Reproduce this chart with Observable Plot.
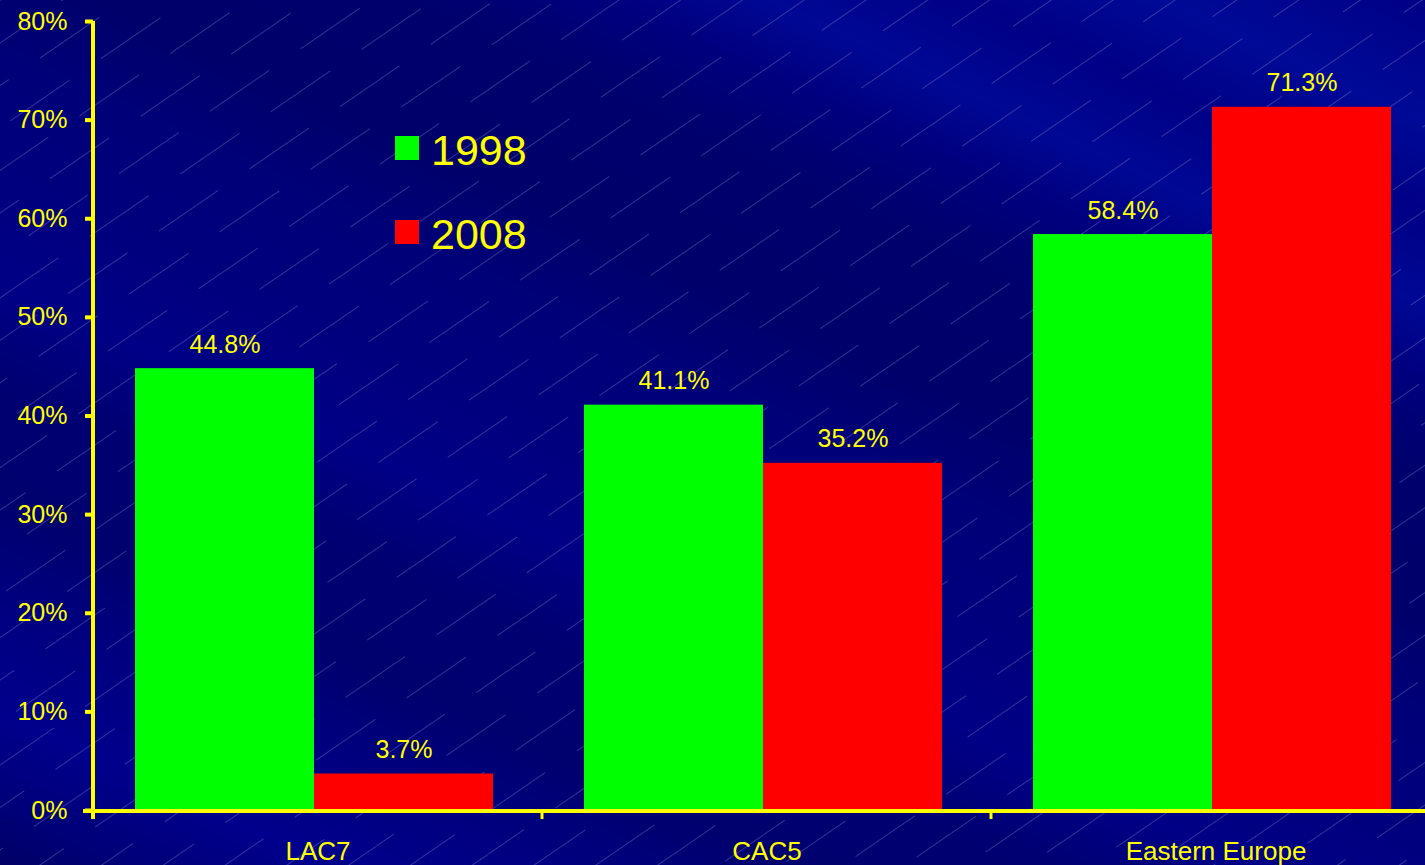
<!DOCTYPE html>
<html><head><meta charset="utf-8">
<script src="https://cdn.jsdelivr.net/npm/d3@7"></script>
<script src="https://cdn.jsdelivr.net/npm/@observablehq/plot@0.6"></script>
<style>
html,body{margin:0;padding:0;overflow:hidden;width:1425px;height:865px;background:#000080;}
#wrap{position:relative;width:1425px;height:865px;overflow:hidden;
 background:
  linear-gradient(205deg, #000086 0%, #000a96 8%, #000086 14%, #000894 20%, #00007e 25%, #00006e 30%, #00006a 40%, #000078 47%, #00007e 55%, #000086 62%, #000072 68%, #00006e 76%, #00007e 82%, #00008c 90%, #000078 96%, #000066 100%);
 font-family:"Liberation Sans", Arial, sans-serif;}
#bg{position:absolute;left:0;top:0;}
#chart{position:absolute;left:0;top:0;}
#chart svg{max-width:none !important;}
.leg{position:absolute;color:#ffff00;font-size:43px;line-height:43px;white-space:nowrap;}
.sw{position:absolute;width:24px;height:24px;}
</style></head>
<body><div id="wrap">
<svg id="bg" width="1425" height="865">
 <defs>
  <pattern id="hatch" width="110" height="70" patternUnits="userSpaceOnUse" patternTransform="rotate(-34.5)">
   <g stroke="rgb(150,150,225)" stroke-opacity="0.33" stroke-width="1">
    <line x1="0" y1="0.5" x2="72" y2="0.5"/>
    <line x1="50" y1="35.5" x2="110" y2="35.5"/>
    <line x1="0" y1="35.5" x2="12" y2="35.5"/>
   </g>
  </pattern>
 </defs>
 <rect width="1425" height="865" fill="url(#hatch)"/>
</svg>
<div id="chart"></div></div>
<script>
const groups = ["LAC7", "CAC5", "Eastern Europe"];
const years = ["1998", "2008"];
const values1998 = [44.8, 41.1, 58.4];
const values2008 = [3.7, 35.2, 71.3];
const yTicks = [0, 10, 20, 30, 40, 50, 60, 70, 80];
const colors = ["#00ff00", "#ff0000"];

const series = {"1998": values1998, "2008": values2008};
const rows = groups.flatMap((g, i) => years.map(yr => ({group: g, year: yr, value: series[yr][i]})));

const chart = Plot.plot({
  width: 1445, height: 865,
  marginLeft: 92, marginRight: 4, marginTop: 21, marginBottom: 55,
  style: {background: "transparent", color: "#ffff00", fontFamily: "'Liberation Sans', Arial, sans-serif", overflow: "visible", maxWidth: "none"},
  fx: {domain: groups, padding: 0, label: null},
  x: {domain: years, paddingInner: 0, paddingOuter: 0.25, align: 0.46, axis: null},
  y: {domain: [0, 80], label: null},
  color: {domain: years, range: colors},
  marks: [
    Plot.barY(rows, {fx: "group", x: "year", y: "value", fill: "year"}),
    Plot.text(rows, {fx: "group", x: "year", y: "value", text: d => d.value.toFixed(1) + "%", dy: -24, fill: "#ffff00", fontSize: 25}),
    Plot.axisY({ticks: yTicks, tickFormat: d => d + "%", tickSize: 8, tickPadding: 18, fontSize: 25, strokeWidth: 4, label: null}),
    Plot.axisFx({anchor: "bottom", tickSize: 0, tickPadding: 31, fontSize: 26, label: null})
  ]
});
chart.style.maxWidth = "none";
document.getElementById("chart").appendChild(chart);

// axis lines and boundary ticks, positioned via the chart's own scales
const fx = chart.scale("fx"), y = chart.scale("y");
const svg = d3.select(chart);
const x0 = fx.apply(groups[0]);
const xEnd = fx.apply(groups[groups.length - 1]) + fx.bandwidth;
const y0 = y.apply(0) + 1, yTop = y.apply(80);
const g = svg.append("g").attr("stroke", "#ffff00");
g.append("line").attr("x1", x0).attr("x2", x0).attr("y1", yTop).attr("y2", y0 + 8).attr("stroke-width", 4);
g.append("line").attr("x1", x0 - 10).attr("x2", xEnd).attr("y1", y0).attr("y2", y0).attr("stroke-width", 4);
[...groups.map(k => fx.apply(k)), xEnd].forEach(xx => {
  g.append("line").attr("x1", xx).attr("x2", xx).attr("y1", y0).attr("y2", y0 + 8).attr("stroke-width", 3);
});

// legend
const wrap = document.getElementById("wrap");
years.forEach((yr, i) => {
  const sw = document.createElement("div");
  sw.className = "sw"; sw.style.background = colors[i];
  sw.style.left = "395px"; sw.style.top = (136 + i * 84) + "px";
  wrap.appendChild(sw);
  const t = document.createElement("div");
  t.className = "leg"; t.textContent = yr;
  t.style.left = "431px"; t.style.top = (129 + i * 84) + "px";
  wrap.appendChild(t);
});
</script>
</body></html>
